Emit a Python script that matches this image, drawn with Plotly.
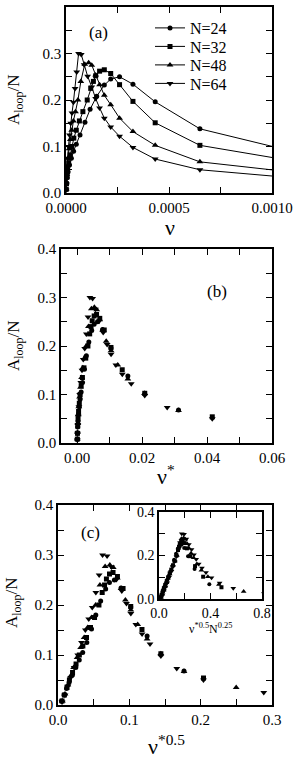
import numpy as np
import plotly.graph_objects as go

W, H = 297, 761

# ---- data: nu and A_loop/N for each chain length N ----
N_values = [24, 32, 48, 64]
symbols = ["circle", "square", "triangle-up", "triangle-down"]
labels = ["N=24", "N=32", "N=48", "N=64"]

nu_24 = [0.0000010, 0.0000030, 0.0000060, 0.0000100, 0.0000170, 0.0000260, 0.0000370,
         0.0000500, 0.0000680, 0.0000920, 0.0001170, 0.0001490, 0.0001860, 0.0002170,
         0.0002600, 0.0003250, 0.0004330, 0.0006500, 0.0013000]
a_24 = [0.008, 0.020, 0.033, 0.045, 0.060, 0.075, 0.090, 0.105, 0.125, 0.152, 0.180,
        0.208, 0.232, 0.245, 0.250, 0.234, 0.196, 0.138, 0.068]

nu_32 = [0.0000010, 0.0000025, 0.0000050, 0.0000080, 0.0000130, 0.0000200, 0.0000280,
         0.0000380, 0.0000500, 0.0000650, 0.0000820, 0.0001030, 0.0001200, 0.0001330,
         0.0001440, 0.0001630, 0.0001860, 0.0002170, 0.0002600, 0.0003250, 0.0004330,
         0.0006500, 0.0013000]
a_32 = [0.008, 0.020, 0.035, 0.050, 0.065, 0.082, 0.100, 0.118, 0.135, 0.155, 0.175,
        0.200, 0.225, 0.240, 0.252, 0.262, 0.265, 0.257, 0.233, 0.197, 0.151, 0.1025, 0.054]

nu_48 = [0.0000008, 0.0000020, 0.0000040, 0.0000065, 0.0000100, 0.0000150, 0.0000210,
         0.0000280, 0.0000360, 0.0000460, 0.0000580, 0.0000720, 0.0000910, 0.0001100,
         0.0001250, 0.0001440, 0.0001630, 0.0001860, 0.0002170, 0.0002600, 0.0003250,
         0.0004330, 0.0006500, 0.0013000]
a_48 = [0.008, 0.022, 0.040, 0.058, 0.075, 0.095, 0.115, 0.135, 0.155, 0.175, 0.200,
        0.240, 0.277, 0.280, 0.275, 0.254, 0.233, 0.210, 0.190, 0.161, 0.132, 0.1025, 0.067, 0.035]

nu_64 = [0.0000005, 0.0000015, 0.0000030, 0.0000050, 0.0000080, 0.0000120, 0.0000170,
         0.0000230, 0.0000290, 0.0000360, 0.0000440, 0.0000520, 0.0000610, 0.0000740,
         0.0000880, 0.0001050, 0.0001250, 0.0001440, 0.0001630, 0.0001860, 0.0002170,
         0.0002600, 0.0003250, 0.0004330, 0.0006500, 0.0013000]
a_64 = [0.006, 0.020, 0.038, 0.055, 0.075, 0.100, 0.125, 0.150, 0.172, 0.195, 0.225,
        0.260, 0.300, 0.298, 0.276, 0.251, 0.228, 0.203, 0.183, 0.161, 0.142, 0.122,
        0.098, 0.073, 0.050, 0.025]

nus = [nu_24, nu_32, nu_48, nu_64]
aas = [a_24, a_32, a_48, a_64]

# tick labels
xa_vals = [0, 0.00025, 0.0005, 0.00075, 0.001]
xa_text = ["0.0000", "", "0.0005", "", "0.0010"]
y_vals = [0, 0.05, 0.1, 0.15, 0.2, 0.25, 0.3, 0.35, 0.4]
y_text = ["0.0", "", "0.1", "", "0.2", "", "0.3", "", "0.4"]
xb_vals = [0, 0.01, 0.02, 0.03, 0.04, 0.05, 0.06]
xb_text = ["0.00", "", "0.02", "", "0.04", "", "0.06"]
xc_vals = [0, 0.05, 0.1, 0.15, 0.2, 0.25, 0.3]
xc_text = ["0.0", "", "0.1", "", "0.2", "", "0.3"]
xi_vals = [0, 0.2, 0.4, 0.6, 0.8]
xi_text = ["0.0", "", "0.4", "", "0.8"]
yi_vals = [0, 0.1, 0.2, 0.3, 0.4]
yi_text = ["0.0", "", "0.2", "", "0.4"]

FONT = "Liberation Serif, Times New Roman, Times, serif"

def px(x):
    return x / W

def py(y):
    return 1 - y / H

fig = go.Figure()

legend_ids = ["legend", "legend2", "legend3", "legend4"]

for N, nu, a, sym, lab, lg in zip(N_values, nus, aas, symbols, labels, legend_ids):
    nu = np.array(nu)
    a = np.array(a)
    msize = 5 if sym in ("circle", "square") else 6
    nu_star = nu * N
    fig.add_trace(go.Scatter(x=nu, y=a, mode="lines+markers", name=lab,
                             line=dict(color="black", width=1),
                             marker=dict(symbol=sym, size=msize, color="black"),
                             xaxis="x", yaxis="y", showlegend=True, legend=lg))
    fig.add_trace(go.Scatter(x=nu_star, y=a, mode="markers",
                             marker=dict(symbol=sym, size=msize, color="black"),
                             xaxis="x2", yaxis="y2", showlegend=False))
    fig.add_trace(go.Scatter(x=np.sqrt(nu_star), y=a, mode="markers",
                             marker=dict(symbol=sym, size=msize, color="black"),
                             xaxis="x3", yaxis="y3", showlegend=False))
    fig.add_trace(go.Scatter(x=np.sqrt(nu_star) * N ** 0.25, y=a, mode="markers",
                             marker=dict(symbol=sym, size=msize - 1, color="black"),
                             xaxis="x4", yaxis="y4", showlegend=False))

def ax(domain, rng, vals, text, anchor, fs=15):
    return dict(domain=domain, range=rng, tickvals=vals, ticktext=text,
                ticks="inside", ticklen=6, tickwidth=1, tickcolor="black",
                showline=True, linecolor="black", linewidth=1.5, mirror="ticks",
                showgrid=False, zeroline=False, anchor=anchor,
                tickfont=dict(family=FONT, size=fs, color="black"))

def leg(top):
    return dict(x=px(150), y=py(top), xanchor="left", yanchor="top",
                bgcolor="rgba(0,0,0,0)", font=dict(family=FONT, size=16, color="black"),
                itemwidth=30)

fig.update_layout(
    width=W, height=H, margin=dict(l=0, r=0, t=0, b=0, autoexpand=False),
    paper_bgcolor="white", plot_bgcolor="white",
    font=dict(family=FONT, color="black"),
    xaxis=ax([px(66), px(272)], [0, 0.001], xa_vals, xa_text, "y"),
    yaxis=ax([py(193), py(7)], [0, 0.4], y_vals, y_text, "x"),
    xaxis2=ax([px(61), px(272)], [-0.005, 0.06], xb_vals, xb_text, "y2"),
    yaxis2=ax([py(443), py(249)], [0, 0.4], y_vals, y_text, "x2"),
    xaxis3=ax([px(58), px(272)], [0, 0.3], xc_vals, xc_text, "y3"),
    yaxis3=ax([py(705), py(505)], [0, 0.4], y_vals, y_text, "x3"),
    xaxis4=ax([px(159), px(262)], [0, 0.8], xi_vals, xi_text, "y4", fs=14),
    yaxis4=ax([py(599), py(512)], [0, 0.4], yi_vals, yi_text, "x4", fs=14),
    legend=leg(11), legend2=leg(29.5), legend3=leg(48), legend4=leg(66.5),
    showlegend=True,
)

def note(text, x, y, size, angle=0):
    fig.add_annotation(text=text, x=px(x), y=py(y), xref="paper", yref="paper",
                       showarrow=False, textangle=angle, xanchor="center", yanchor="middle",
                       font=dict(family=FONT, size=size, color="black"))

ytitle = "A<sub>loop</sub>/N"
note(ytitle, 15, 100, 17, -90)
note(ytitle, 15, 346, 17, -90)
note(ytitle, 13, 603, 17, -90)
note("ν", 170, 227, 22)
note("ν<sup>*</sup>", 166, 475, 22)
note("ν<sup>*0.5</sup>", 166, 745, 22)
note("ν<sup>*0.5</sup>N<sup>0.25</sup>", 210, 628, 12)
note("(a)", 98, 32, 17)
note("(b)", 217, 291, 17)
note("(c)", 90, 532, 17)

fig.write_html("out.html", config={"displayModeBar": False},
               post_script="document.body.style.margin='0';document.body.style.padding='0';")
